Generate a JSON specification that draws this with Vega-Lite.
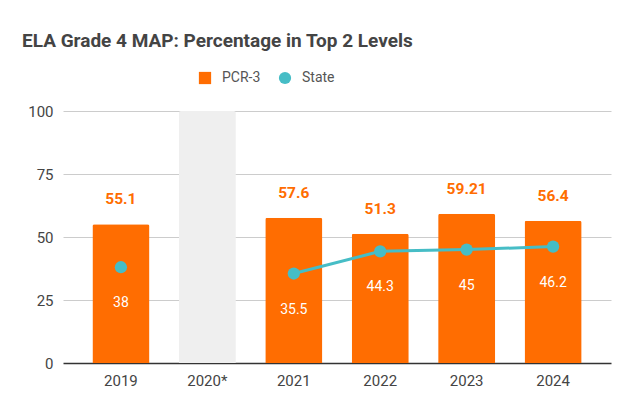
{
  "$schema": "https://vega.github.io/schema/vega-lite/v6.json",
  "autosize": "none",
  "width": 548,
  "height": 252,
  "padding": {"left": 63, "top": 111, "right": 18, "bottom": 48},
  "background": "white",
  "title": {
    "text": "ELA Grade 4 MAP: Percentage in Top 2 Levels",
    "anchor": "start",
    "frame": "group",
    "dx": -41,
    "offset": 20,
    "font": "Roboto",
    "fontSize": 19,
    "fontWeight": "bold",
    "color": "#444444"
  },
  "data": {
    "values": [
      {"year": "2019", "pcr": 55.1, "state": 38, "na": null},
      {"year": "2020*", "pcr": null, "state": null, "na": 100},
      {"year": "2021", "pcr": 57.6, "state": 35.5, "na": null},
      {"year": "2022", "pcr": 51.3, "state": 44.3, "na": null},
      {"year": "2023", "pcr": 59.21, "state": 45, "na": null},
      {"year": "2024", "pcr": 56.4, "state": 46.2, "na": null}
    ]
  },
  "encoding": {
    "x": {
      "field": "year",
      "type": "ordinal",
      "sort": ["2019", "2020*", "2021", "2022", "2023", "2024"],
      "title": null,
      "scale": {"domain": ["2019", "2020*", "2021", "2022", "2023", "2024"], "paddingInner": 0.34, "paddingOuter": 0.34},
      "axis": {
        "labelAngle": 0,
        "domain": false,
        "ticks": false,
        "labelPadding": 10,
        "labelFont": "Roboto",
        "labelFontSize": 15,
        "labelColor": "#444444"
      }
    }
  },
  "layer": [
    {
      "mark": {"type": "bar", "color": "#efefef", "cornerRadiusTopLeft": 2, "cornerRadiusTopRight": 2},
      "encoding": {
        "y": {
          "field": "na",
          "type": "quantitative",
          "scale": {"domain": [0, 100]},
          "title": null,
          "axis": {
            "values": [0, 25, 50, 75, 100],
            "domain": false,
            "ticks": false,
            "labelPadding": 10,
            "labelFont": "Roboto",
            "labelFontSize": 15,
            "labelColor": "#444444",
            "gridColor": {"condition": {"test": "datum.value === 0", "value": "#333333"}, "value": "#cccccc"},
            "gridWidth": {"condition": {"test": "datum.value === 0", "value": 1.5}, "value": 1}
          }
        }
      }
    },
    {
      "mark": {"type": "bar", "cornerRadiusTopLeft": 2, "cornerRadiusTopRight": 2},
      "encoding": {
        "y": {"field": "pcr", "type": "quantitative"},
        "color": {
          "datum": "PCR-3",
          "type": "nominal",
          "scale": {"domain": ["PCR-3", "State"], "range": ["#ff6d01", "#46bdc6"]},
          "legend": {
            "title": null,
            "orient": "none",
            "legendX": 135,
            "legendY": -40,
            "direction": "horizontal",
            "symbolSize": 150,
            "symbolStrokeWidth": 0,
            "labelFont": "Roboto",
            "labelFontSize": 14,
            "labelColor": "#555555",
            "labelOffset": 10,
            "columnPadding": 17,
            "encode": {
              "symbols": {
                "update": {
                  "shape": {"signal": "datum.value === 'State' ? 'circle' : 'square'"},
                  "fillOpacity": {"value": 1}
                }
              }
            }
          }
        }
      }
    },
    {
      "transform": [{"filter": "datum.year >= '2021'"}],
      "mark": {"type": "line", "color": "#46bdc6", "strokeWidth": 3},
      "encoding": {
        "y": {"field": "state", "type": "quantitative"}
      }
    },
    {
      "mark": {"type": "point", "filled": true, "opacity": 1, "size": 150},
      "encoding": {
        "y": {"field": "state", "type": "quantitative"},
        "color": {"datum": "State", "type": "nominal"}
      }
    },
    {
      "mark": {"type": "text", "baseline": "bottom", "dy": -17, "font": "Roboto", "fontSize": 15.5, "fontWeight": "bold", "color": "#ff6d01"},
      "encoding": {
        "y": {"field": "pcr", "type": "quantitative"},
        "text": {"field": "pcr", "type": "quantitative", "format": ""}
      }
    },
    {
      "mark": {"type": "text", "baseline": "middle", "dy": 36, "font": "Roboto", "fontSize": 14, "color": "white"},
      "encoding": {
        "y": {"field": "state", "type": "quantitative"},
        "text": {"field": "state", "type": "quantitative", "format": ""}
      }
    }
  ],
  "config": {
    "view": {"stroke": null},
    "legend": {"symbolType": "square"}
  }
}
